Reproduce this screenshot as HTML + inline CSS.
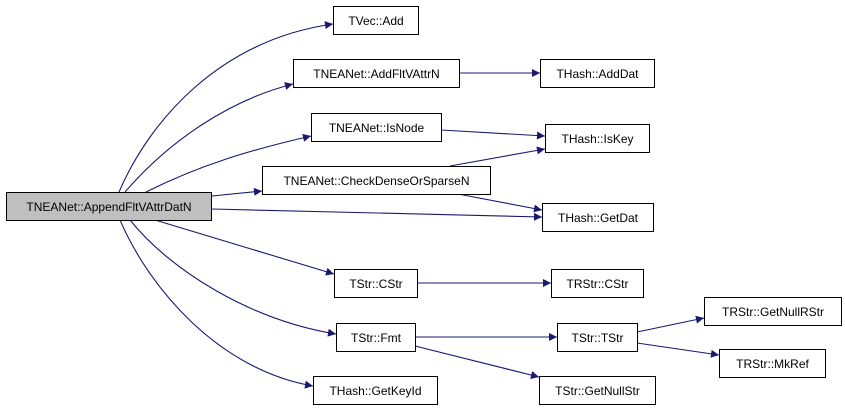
<!DOCTYPE html>
<html><head><meta charset="utf-8"><style>
html,body{margin:0;padding:0;background:#fff;width:845px;height:411px;overflow:hidden}
text{font-family:"Liberation Sans",Arial,sans-serif;font-size:12px;fill:#000}
</style></head><body>
<svg width="845" height="411" viewBox="0 0 845 411" xmlns="http://www.w3.org/2000/svg">
<defs><marker id="a" viewBox="0 0 10 10" refX="10" refY="5" markerWidth="10" markerHeight="8" markerUnits="userSpaceOnUse" orient="auto"><path d="M0,0 L10,5 L0,10 z" fill="#191970"/></marker></defs>
<g fill="none" stroke="#191970" stroke-width="1.1" marker-end="url(#a)">
<path d="M119,192 C150,120 220,40 333,24"/>
<path d="M125,192 C170,140 230,100 293,84"/>
<path d="M146,192 C200,165 250,150 311,136"/>
<path d="M212,196 L262,191"/>
<path d="M212,209 L542,217"/>
<path d="M155,220 L334,274"/>
<path d="M130,220 C170,270 250,320 336,334"/>
<path d="M120,220 C150,290 220,370 313,386"/>
<path d="M459,73 L540,73"/>
<path d="M441,130 L545,136"/>
<path d="M450,166 L545,149"/>
<path d="M458,194 L542,210"/>
<path d="M417,283 L551,283"/>
<path d="M415,337 L557,337"/>
<path d="M415,346 L539,377"/>
<path d="M637,332 L704,318"/>
<path d="M637,343 L719,355"/>
</g>
<g stroke="#000" stroke-width="1" fill="#fff">
<rect x="6.5" y="192.5" width="205" height="28" fill="#bfbfbf"/>
<rect x="333.5" y="6.5" width="85" height="28"/>
<rect x="293.5" y="59.5" width="166" height="28"/>
<rect x="540.5" y="59.5" width="114" height="28"/>
<rect x="311.5" y="113.5" width="130" height="28"/>
<rect x="545.5" y="124.5" width="104" height="28"/>
<rect x="262.5" y="166.5" width="228" height="28"/>
<rect x="542.5" y="203.5" width="111" height="28"/>
<rect x="334.5" y="269.5" width="83" height="28"/>
<rect x="551.5" y="269.5" width="92" height="28"/>
<rect x="336.5" y="323.5" width="79" height="28"/>
<rect x="557.5" y="323.5" width="80" height="28"/>
<rect x="704.5" y="297.5" width="137" height="28"/>
<rect x="719.5" y="349.5" width="106" height="28"/>
<rect x="313.5" y="376.5" width="124" height="28"/>
<rect x="539.5" y="376.5" width="116" height="28"/>
</g>
<g text-anchor="middle">
<text x="109" y="211">TNEANet::AppendFltVAttrDatN</text>
<text x="376" y="25">TVec::Add</text>
<text x="376.5" y="78">TNEANet::AddFltVAttrN</text>
<text x="597.5" y="78">THash::AddDat</text>
<text x="376.5" y="132">TNEANet::IsNode</text>
<text x="597.5" y="143">THash::IsKey</text>
<text x="376.5" y="185">TNEANet::CheckDenseOrSparseN</text>
<text x="598" y="222">THash::GetDat</text>
<text x="376" y="288">TStr::CStr</text>
<text x="597.5" y="288">TRStr::CStr</text>
<text x="376" y="342">TStr::Fmt</text>
<text x="597.5" y="342">TStr::TStr</text>
<text x="773" y="316">TRStr::GetNullRStr</text>
<text x="772.5" y="368">TRStr::MkRef</text>
<text x="375.5" y="395">THash::GetKeyId</text>
<text x="597.5" y="395">TStr::GetNullStr</text>
</g>
</svg>
</body></html>
